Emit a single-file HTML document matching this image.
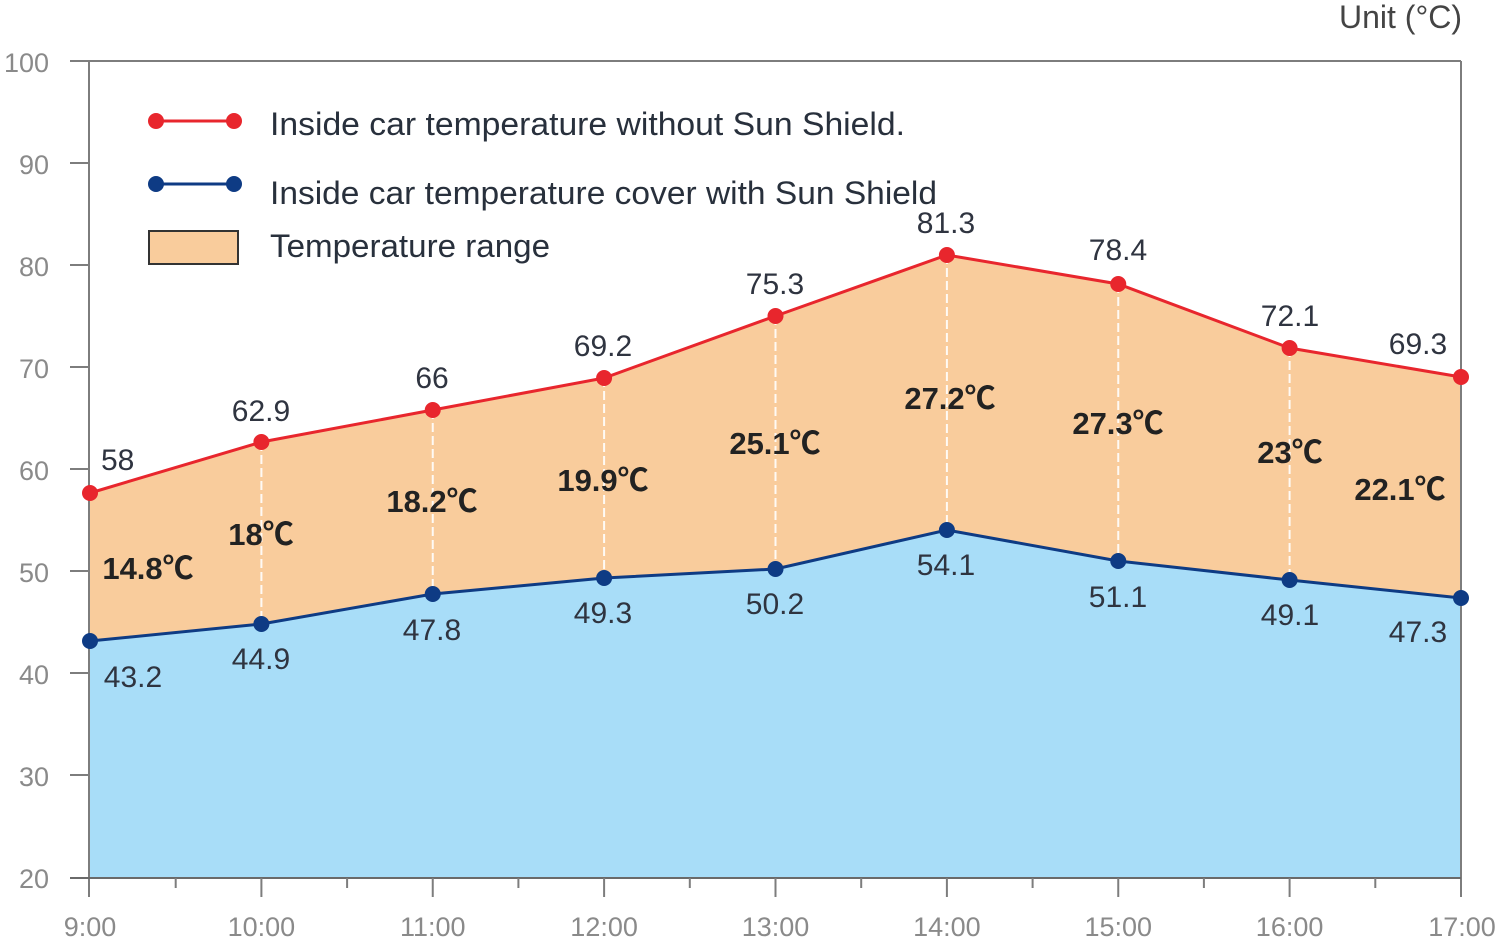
<!DOCTYPE html>
<html>
<head>
<meta charset="utf-8">
<style>
html,body{margin:0;padding:0;background:#fff;}
svg{display:block;}
text{font-family:"Liberation Sans","Noto Sans CJK SC",sans-serif;}
</style>
</head>
<body>
<svg width="1500" height="942" viewBox="0 0 1500 942" xmlns="http://www.w3.org/2000/svg">
  <!-- blue area -->
  <polygon fill="#A8DDF8" points="90,641 261.4,624 432.75,594 604.1,578 775.5,569 946.9,530 1118.25,561 1289.6,580 1461,598 1461,878 90,878"/>
  <!-- orange area -->
  <polygon fill="#F9CC9C" points="90,493 261.4,442 432.75,410 604.1,378 775.5,316 946.9,255 1118.25,284 1289.6,348 1461,377 1461,598 1289.6,580 1118.25,561 946.9,530 775.5,569 604.1,578 432.75,594 261.4,624 90,641"/>

  <!-- dashed white verticals -->
  <g stroke="#ffffff" stroke-width="2" stroke-dasharray="9,4" opacity="0.9">
    <line x1="261.4" y1="442" x2="261.4" y2="624"/>
    <line x1="432.75" y1="410" x2="432.75" y2="594"/>
    <line x1="604.1" y1="378" x2="604.1" y2="578"/>
    <line x1="775.5" y1="316" x2="775.5" y2="569"/>
    <line x1="946.9" y1="255" x2="946.9" y2="530"/>
    <line x1="1118.25" y1="284" x2="1118.25" y2="561"/>
    <line x1="1289.6" y1="348" x2="1289.6" y2="580"/>
  </g>

  <!-- axes / frame -->
  <g stroke="#7d7d7d" stroke-width="2" fill="none">
    <line x1="70" y1="61" x2="1461" y2="61"/>
    <line x1="1461" y1="61" x2="1461" y2="897"/>
    <line x1="89" y1="61" x2="89" y2="897"/>
    <line x1="70" y1="878" x2="1461" y2="878" stroke="#6a6a6a"/>
    <line x1="70" y1="163" x2="89" y2="163"/>
    <line x1="70" y1="265" x2="89" y2="265"/>
    <line x1="70" y1="367" x2="89" y2="367"/>
    <line x1="70" y1="469" x2="89" y2="469"/>
    <line x1="70" y1="571" x2="89" y2="571"/>
    <line x1="70" y1="673" x2="89" y2="673"/>
    <line x1="70" y1="775" x2="89" y2="775"/>
    <line x1="261.4" y1="878" x2="261.4" y2="897"/>
    <line x1="432.75" y1="878" x2="432.75" y2="897"/>
    <line x1="604.1" y1="878" x2="604.1" y2="897"/>
    <line x1="775.5" y1="878" x2="775.5" y2="897"/>
    <line x1="946.9" y1="878" x2="946.9" y2="897"/>
    <line x1="1118.25" y1="878" x2="1118.25" y2="897"/>
    <line x1="1289.6" y1="878" x2="1289.6" y2="897"/>
    <line x1="175.7" y1="878" x2="175.7" y2="888"/>
    <line x1="347.1" y1="878" x2="347.1" y2="888"/>
    <line x1="518.4" y1="878" x2="518.4" y2="888"/>
    <line x1="689.8" y1="878" x2="689.8" y2="888"/>
    <line x1="861.2" y1="878" x2="861.2" y2="888"/>
    <line x1="1032.6" y1="878" x2="1032.6" y2="888"/>
    <line x1="1203.9" y1="878" x2="1203.9" y2="888"/>
    <line x1="1375.3" y1="878" x2="1375.3" y2="888"/>
  </g>

  <!-- lines -->
  <polyline fill="none" stroke="#E8262D" stroke-width="3" points="90,493 261.4,442 432.75,410 604.1,378 775.5,316 946.9,255 1118.25,284 1289.6,348 1461,377"/>
  <polyline fill="none" stroke="#0E3B84" stroke-width="3" points="90,641 261.4,624 432.75,594 604.1,578 775.5,569 946.9,530 1118.25,561 1289.6,580 1461,598"/>
  <g fill="#E8262D">
    <circle cx="90" cy="493" r="8"/><circle cx="261.4" cy="442" r="8"/><circle cx="432.75" cy="410" r="8"/>
    <circle cx="604.1" cy="378" r="8"/><circle cx="775.5" cy="316" r="8"/><circle cx="946.9" cy="255" r="8"/>
    <circle cx="1118.25" cy="284" r="8"/><circle cx="1289.6" cy="348" r="8"/><circle cx="1461" cy="377" r="8"/>
  </g>
  <g fill="#0E3B84">
    <circle cx="90" cy="641" r="8"/><circle cx="261.4" cy="624" r="8"/><circle cx="432.75" cy="594" r="8"/>
    <circle cx="604.1" cy="578" r="8"/><circle cx="775.5" cy="569" r="8"/><circle cx="946.9" cy="530" r="8"/>
    <circle cx="1118.25" cy="561" r="8"/><circle cx="1289.6" cy="580" r="8"/><circle cx="1461" cy="598" r="8"/>
  </g>

  <!-- y labels -->
  <g fill="#8a8a8a" font-size="27" text-anchor="end">
    <text x="49" y="72">100</text>
    <text x="49" y="174">90</text>
    <text x="49" y="276">80</text>
    <text x="49" y="378">70</text>
    <text x="49" y="480">60</text>
    <text x="49" y="582">50</text>
    <text x="49" y="684">40</text>
    <text x="49" y="786">30</text>
    <text x="49" y="888">20</text>
  </g>
  <!-- x labels -->
  <g fill="#8a8a8a" font-size="27" text-anchor="middle">
    <text x="90" y="936">9:00</text>
    <text x="261.4" y="936">10:00</text>
    <text x="432.75" y="936">11:00</text>
    <text x="604.1" y="936">12:00</text>
    <text x="775.5" y="936">13:00</text>
    <text x="946.9" y="936">14:00</text>
    <text x="1118.25" y="936">15:00</text>
    <text x="1289.6" y="936">16:00</text>
    <text x="1462" y="936">17:00</text>
  </g>

  <!-- unit -->
  <text x="1462" y="28" font-size="32" fill="#444" text-anchor="end">Unit (°C)</text>

  <!-- legend -->
  <line x1="156" y1="121" x2="234" y2="121" stroke="#E8262D" stroke-width="3"/>
  <circle cx="156" cy="121" r="8" fill="#E8262D"/><circle cx="234" cy="121" r="8" fill="#E8262D"/>
  <line x1="156" y1="184" x2="234" y2="184" stroke="#0E3B84" stroke-width="3"/>
  <circle cx="156" cy="184" r="8" fill="#0E3B84"/><circle cx="234" cy="184" r="8" fill="#0E3B84"/>
  <rect x="149" y="231" width="89" height="33" fill="#F9CC9C" stroke="#333" stroke-width="2"/>
  <g fill="#28303c" font-size="32">
    <text x="270" y="135" textLength="635" lengthAdjust="spacingAndGlyphs">Inside car temperature without Sun Shield.</text>
    <text x="270" y="204" textLength="667" lengthAdjust="spacingAndGlyphs">Inside car temperature cover with Sun Shield</text>
    <text x="270" y="257" textLength="280" lengthAdjust="spacingAndGlyphs">Temperature range</text>
  </g>

  <!-- data labels -->
  <g fill="#2f3440" font-size="30" text-anchor="middle">
    <text x="101" y="470" text-anchor="start">58</text>
    <text x="261" y="421">62.9</text>
    <text x="432" y="388">66</text>
    <text x="603" y="356">69.2</text>
    <text x="775" y="294">75.3</text>
    <text x="946" y="233">81.3</text>
    <text x="1118" y="260">78.4</text>
    <text x="1290" y="326">72.1</text>
    <text x="1418" y="354">69.3</text>
    <text x="133" y="687">43.2</text>
    <text x="261" y="669">44.9</text>
    <text x="432" y="640">47.8</text>
    <text x="603" y="623">49.3</text>
    <text x="775" y="614">50.2</text>
    <text x="946" y="575">54.1</text>
    <text x="1118" y="607">51.1</text>
    <text x="1290" y="625">49.1</text>
    <text x="1418" y="642">47.3</text>
  </g>

  <!-- range labels -->
  <g fill="#222222" font-size="31" font-weight="bold" text-anchor="middle">
    <text x="148" y="579">14.8℃</text>
    <text x="261" y="545">18℃</text>
    <text x="432" y="512">18.2℃</text>
    <text x="603" y="491">19.9℃</text>
    <text x="775" y="454">25.1℃</text>
    <text x="950" y="409">27.2℃</text>
    <text x="1118" y="434">27.3℃</text>
    <text x="1290" y="463">23℃</text>
    <text x="1400" y="500">22.1℃</text>
  </g>
</svg>
</body>
</html>
